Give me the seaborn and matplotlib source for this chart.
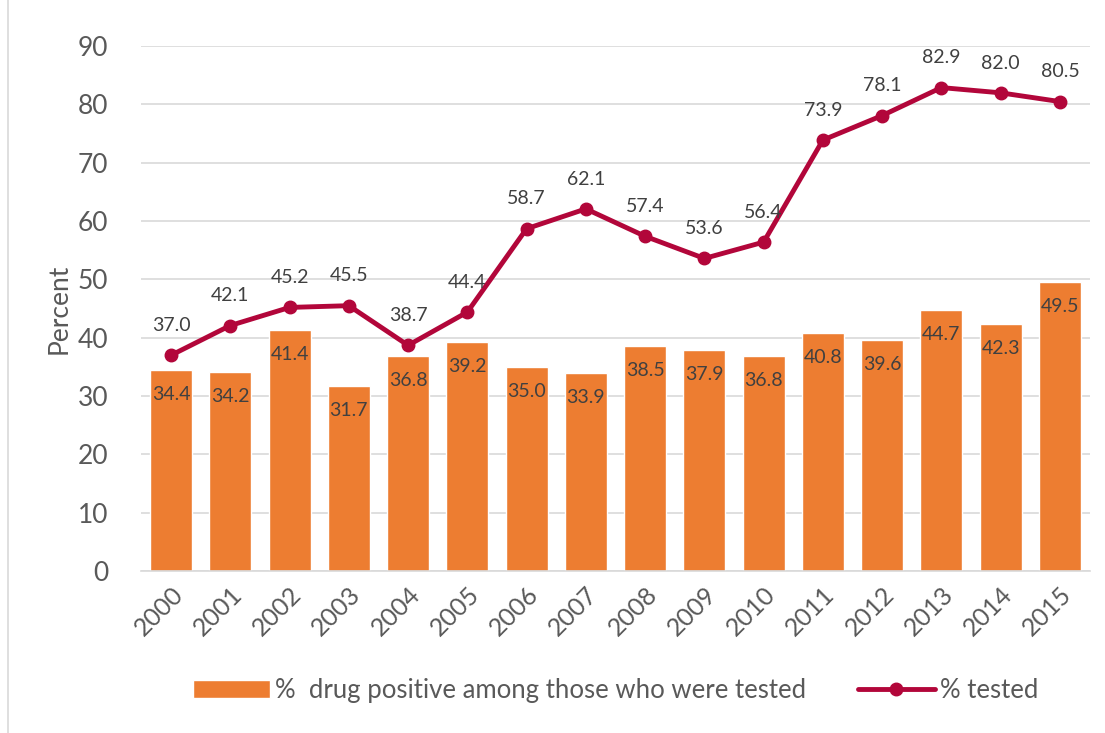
import matplotlib.pyplot as plt
import numpy as np
import pandas as pd
import seaborn as sns

# data
years = [str(y) for y in range(2000, 2016)]
drug_positive = [34.4, 34.2, 41.4, 31.7, 36.8, 39.2, 35.0, 33.9,
                 38.5, 37.9, 36.8, 40.8, 39.6, 44.7, 42.3, 49.5]
tested = [37.0, 42.1, 45.2, 45.5, 38.7, 44.4, 58.7, 62.1,
          57.4, 53.6, 56.4, 73.9, 78.1, 82.9, 82.0, 80.5]

bar_label = "%  drug positive among those who were tested"
line_label = "% tested"

orange = "#ED7D31"
crimson = "#B2063A"
text_col = "#595959"

sns.set_theme(style="white")
plt.rcParams["font.family"] = ["Lato", "DejaVu Sans"]

df = pd.DataFrame({"year": years, "positive": drug_positive, "tested": tested})

fig = plt.figure(figsize=(11.05, 7.33), dpi=100)
ax = fig.add_axes([0.128, 0.221, 0.858, 0.716])

sns.barplot(data=df, x="year", y="positive", color=orange, saturation=1,
            width=0.71, ax=ax, label=bar_label, zorder=2)
x = np.arange(len(years))
ax.plot(x, df["tested"], color=crimson, lw=3.5, marker="o", ms=9,
        label=line_label, zorder=4)

# data labels
for xi, v in zip(x, drug_positive):
    ax.text(xi, v - 4.2, f"{v:.1f}", ha="center", va="center",
            fontsize=14, color="#404040", zorder=5)
for xi, v in zip(x, tested):
    ax.text(xi, v + 5.1, f"{v:.1f}", ha="center", va="center",
            fontsize=14, color="#404040", zorder=5)

ax.set_ylim(0, 90)
ax.set_xlim(-0.5, len(years) - 0.5)
ax.set_yticks(range(0, 91, 10))
ax.yaxis.grid(True, color="#D9D9D9", lw=1.2, zorder=0)
ax.set_axisbelow(True)
for s in ["top", "right", "left"]:
    ax.spines[s].set_visible(False)
ax.spines["bottom"].set_color("#D9D9D9")
ax.spines["bottom"].set_linewidth(1.2)

ax.tick_params(axis="y", labelsize=19, colors=text_col, length=0, pad=24)
ax.tick_params(axis="x", labelsize=18, colors=text_col, length=0, pad=8)
plt.setp(ax.get_xticklabels(), rotation=45, ha="right", rotation_mode="anchor")
ax.set_xlabel("")
ax.set_ylabel("Percent", fontsize=19, color=text_col, labelpad=4)

handles, labels = ax.get_legend_handles_labels()
order = [labels.index(bar_label), labels.index(line_label)]
leg = ax.legend([handles[i] for i in order], [labels[i] for i in order],
                loc="upper center", bbox_to_anchor=(0.5, -0.16), ncol=2,
                frameon=False, fontsize=18.5, labelcolor=text_col,
                handlelength=3.0, handletextpad=0.2, columnspacing=2.0)

# light frame around the figure
fig.patches.append(plt.Rectangle((0.007, -0.01), 1.2, 1.02, transform=fig.transFigure,
                                 fill=False, edgecolor="#D9D9D9", lw=1.2))

fig.savefig("out.png", dpi=100)
